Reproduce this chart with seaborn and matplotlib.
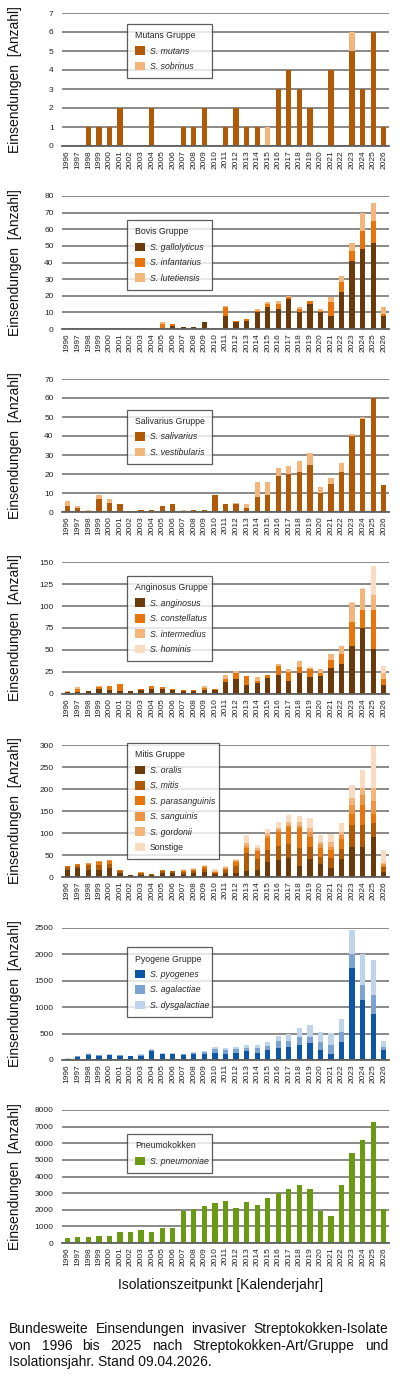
import numpy as np
import pandas as pd
import matplotlib
matplotlib.use("Agg")
import matplotlib.pyplot as plt
from matplotlib.patches import Patch
import seaborn as sns

# ---- data ----
years = [str(y) for y in range(1996, 2027)]

# Mutans Gruppe
mutans = [0, 0, 1, 1, 1, 2, 0, 0, 2, 0, 0, 1, 1, 2, 0, 1, 2, 1, 1, 0, 3, 4, 3, 2, 0, 4, 0, 5, 3, 6, 1]
sobrinus = [0, 0, 0, 0, 0, 0, 0, 0, 0, 0, 0, 0, 0, 0, 0, 0, 0, 0, 0, 1, 0, 0, 0, 0, 0, 0, 0, 1, 0, 0, 0]

# Bovis Gruppe
gallolyticus = [0, 0, 0, 0, 0, 0, 0, 0, 0, 0, 2, 1, 1, 4, 0, 8, 4, 5, 10, 13, 12, 18, 10, 15, 10, 8, 22, 41, 48, 52, 8]
infantarius = [0, 0, 0, 0, 0, 0, 0, 0, 0, 3, 1, 0, 0, 0, 0, 5, 1, 1, 1, 2, 3, 1, 2, 2, 1, 8, 6, 6, 11, 13, 1]
lutetiensis = [0, 0, 0, 0, 0, 0, 0, 0, 0, 1, 0, 0, 0, 0, 0, 1, 0, 0, 1, 1, 2, 1, 1, 0, 1, 3, 4, 5, 11, 11, 4]

# Salivarius Gruppe
salivarius = [3, 2, 0, 7, 5, 4, 0, 1, 1, 3, 4, 0, 1, 1, 9, 4, 4, 2, 8, 9, 19, 20, 21, 25, 10, 15, 21, 40, 49, 60, 14]
vestibularis = [3, 1, 1, 2, 2, 0, 0, 0, 0, 0, 0, 1, 0, 0, 0, 0, 1, 2, 8, 7, 4, 4, 6, 6, 3, 3, 5, 1, 1, 0, 0]

# Anginosus Gruppe
anginosus = [2, 2, 3, 6, 5, 3, 3, 4, 6, 6, 4, 3, 3, 4, 4, 14, 17, 10, 12, 18, 22, 15, 24, 19, 21, 30, 34, 55, 75, 51, 10]
constellatus = [0, 4, 0, 2, 4, 8, 0, 2, 3, 2, 2, 2, 2, 3, 2, 3, 7, 11, 3, 4, 10, 10, 7, 9, 3, 9, 12, 27, 21, 44, 7]
intermedius = [1, 2, 0, 1, 0, 0, 0, 0, 0, 0, 0, 0, 0, 2, 0, 5, 2, 0, 4, 0, 2, 3, 7, 2, 4, 6, 8, 21, 23, 17, 7]
hominis = [0, 0, 0, 0, 0, 0, 0, 0, 0, 0, 0, 0, 0, 0, 0, 0, 0, 0, 0, 0, 0, 0, 0, 1, 0, 0, 1, 1, 1, 33, 8]

# Mitis Gruppe
oralis = [15, 20, 15, 17, 20, 10, 4, 5, 4, 8, 8, 6, 8, 12, 6, 8, 8, 14, 16, 33, 38, 44, 24, 41, 29, 20, 40, 69, 69, 90, 11]
mitis = [7, 6, 12, 11, 9, 4, 1, 3, 2, 5, 6, 5, 6, 7, 3, 7, 17, 41, 24, 28, 33, 31, 43, 28, 17, 23, 23, 50, 50, 33, 11]
parasanguinis = [2, 3, 3, 6, 7, 2, 0, 2, 0, 2, 0, 3, 3, 3, 2, 4, 9, 12, 19, 27, 31, 38, 44, 23, 21, 19, 23, 24, 45, 20, 4]
sanguinis = [0, 0, 1, 2, 2, 1, 0, 1, 0, 0, 0, 1, 1, 2, 1, 2, 3, 3, 2, 5, 4, 5, 6, 10, 8, 7, 10, 21, 22, 30, 3]
gordonii = [0, 0, 0, 0, 0, 0, 0, 0, 0, 0, 0, 2, 1, 1, 2, 1, 2, 8, 4, 7, 5, 6, 9, 9, 5, 11, 7, 15, 16, 29, 2]
sonstige = [0, 0, 0, 0, 0, 0, 0, 0, 0, 0, 0, 2, 1, 2, 5, 2, 3, 17, 8, 8, 13, 18, 13, 22, 15, 17, 20, 31, 41, 95, 30]

# Pyogene Gruppe
pyogenes = [25, 65, 100, 85, 95, 85, 70, 75, 175, 110, 105, 100, 105, 120, 135, 115, 130, 175, 140, 185, 225, 245, 290, 320, 195, 115, 345, 1740, 1130, 880, 180]
agalactiae = [3, 5, 15, 5, 5, 5, 5, 20, 20, 10, 10, 10, 25, 35, 80, 80, 75, 60, 90, 85, 130, 115, 145, 125, 145, 170, 190, 260, 290, 350, 70]
dysgalactiae = [2, 5, 10, 5, 5, 5, 5, 15, 15, 10, 10, 5, 20, 20, 25, 30, 35, 40, 55, 80, 100, 125, 165, 220, 190, 235, 245, 465, 580, 655, 105]

# Pneumokokken
pneumoniae = [280, 360, 360, 420, 420, 640, 640, 760, 660, 900, 900, 1920, 2020, 2200, 2400, 2520, 2100, 2440, 2280, 2720, 2980, 3240, 3460, 3240, 1920, 1640, 3460, 5420, 6200, 7280, 2040]

caption = ["Bundesweite Einsendungen invasiver Streptokokken-Isolate",
           "von 1996 bis 2025 nach Streptokokken-Art/Gruppe und",
           "Isolationsjahr. Stand 09.04.2026."]

# ---- styling ----
DARK = "#6b3a0a"
MID = "#b05a08"
ORANGE = "#e8740c"
ORANGE2 = "#ee9445"
LIGHT = "#f4b57a"
PALE = "#f9dcc0"

# title, series, y max, y step, legend top (axes frac), legend width (px)
panels = [
    ("Mutans Gruppe", [("S. mutans", mutans, MID), ("S. sobrinus", sobrinus, LIGHT)], 7, 1, 0.92, 85),
    ("Bovis Gruppe", [("S. gallolyticus", gallolyticus, DARK), ("S. infantarius", infantarius, ORANGE),
                      ("S. lutetiensis", lutetiensis, LIGHT)], 80, 10, 0.82, 85),
    ("Salivarius Gruppe", [("S. salivarius", salivarius, MID), ("S. vestibularis", vestibularis, LIGHT)], 70, 10, 0.77, 85),
    ("Anginosus Gruppe", [("S. anginosus", anginosus, DARK), ("S. constellatus", constellatus, ORANGE),
                          ("S. intermedius", intermedius, LIGHT), ("S. hominis", hominis, PALE)], 150, 25, 0.895, 85),
    ("Mitis Gruppe", [("S. oralis", oralis, DARK), ("S. mitis", mitis, MID),
                      ("S. parasanguinis", parasanguinis, ORANGE), ("S. sanguinis", sanguinis, ORANGE2),
                      ("S. gordonii", gordonii, LIGHT), ("Sonstige", sonstige, PALE)], 300, 50, 1.015, 92),
    ("Pyogene Gruppe", [("S. pyogenes", pyogenes, "#0d56a6"), ("S. agalactiae", agalactiae, "#7ba3d1"),
                        ("S. dysgalactiae", dysgalactiae, "#bdd4ec")], 2500, 500, 0.855, 85),
    ("Pneumokokken", [("S. pneumoniae", pneumoniae, "#6a9a13")], 8000, 1000, 0.82, 85),
]

sns.set_style("white")
plt.rcParams["font.family"] = ["Liberation Sans", "DejaVu Sans"]

W, H = 400, 1378
fig = plt.figure(figsize=(W / 100, H / 100), dpi=100)

tops = [13, 196, 379, 562, 745, 928, 1110]
bottoms = [146, 329, 512, 694, 877, 1060, 1243]
left_px, right_px = 62, 389
ax_w = right_px - left_px

for (title, series, ymax, step, leg_y, leg_w), top, bot in zip(panels, tops, bottoms):
    ax = fig.add_axes([left_px / W, 1 - bot / H, ax_w / W, (bot - top) / H])
    df = pd.DataFrame({name: vals for name, vals, _ in series}, index=years)
    cum = df.cumsum(axis=1)
    # draw cumulative totals from top layer down so each layer covers the one above
    for name, _, color in reversed(series):
        sns.barplot(x=years, y=cum[name].values, order=years, color=color, saturation=1,
                    width=0.5, errorbar=None, linewidth=0, ax=ax)
    ax.set_xlim(-0.5, len(years) - 0.5)
    ax.set_ylim(0, ymax)
    ax.set_yticks(np.arange(0, ymax + step, step))
    ax.set_xlabel("")
    ax.set_ylabel("")
    ax.yaxis.grid(True, color="#808080", linewidth=1.3)
    ax.set_axisbelow(True)
    for s in ["left", "right", "top"]:
        ax.spines[s].set_visible(False)
    ax.spines["bottom"].set_color("#606060")
    ax.spines["bottom"].set_linewidth(1.3)
    ax.tick_params(axis="both", length=0, labelsize=6, colors="#222222")
    ax.tick_params(axis="y", pad=6)
    ax.tick_params(axis="x", pad=3)
    plt.setp(ax.get_xticklabels(), rotation=90)

    handles = [Patch(facecolor=c, edgecolor="none") for _, _, c in series]
    labels = [n for n, _, _ in series]
    leg = ax.legend(handles, labels, title=title, loc="upper left",
                    bbox_to_anchor=(0.2, leg_y - 0.9, leg_w / ax_w, 0.9), mode="expand",
                    borderaxespad=0, fontsize=6.3, title_fontsize=6.3, alignment="left",
                    handlelength=1.15, handleheight=1.15, handletextpad=0.6, labelspacing=0.7,
                    borderpad=0.85, frameon=True, fancybox=False)
    leg.get_frame().set_edgecolor("#333333")
    leg.get_frame().set_linewidth(0.9)
    for t in leg.get_texts():
        if t.get_text().startswith("S. "):
            t.set_fontstyle("italic")

    fig.text(15 / W, 1 - (top + bot) / 2 / H, "Einsendungen  [Anzahl]", rotation=90,
             ha="center", va="center", fontsize=10, color="#111111")

fig.text(221 / W, 1 - 1285 / H, "Isolationszeitpunkt [Kalenderjahr]", ha="center", va="center",
         fontsize=10, color="#111111")

# justified caption
renderer = fig.canvas.get_renderer()
x0, x1 = 9 / W, 388 / W
line_y = [1329, 1346, 1362]
for i, line in enumerate(caption):
    y = 1 - line_y[i] / H
    if i == len(caption) - 1:
        fig.text(x0, y, line, ha="left", va="center", fontsize=10, color="#111111")
        continue
    words = line.split()
    texts = [fig.text(0, y, w, ha="left", va="center", fontsize=10, color="#111111") for w in words]
    widths = [t.get_window_extent(renderer).width / fig.bbox.width for t in texts]
    gap = (x1 - x0 - sum(widths)) / (len(words) - 1)
    x = x0
    for t, w in zip(texts, widths):
        t.set_x(x)
        x += w + gap

fig.savefig("out.png", dpi=100)
